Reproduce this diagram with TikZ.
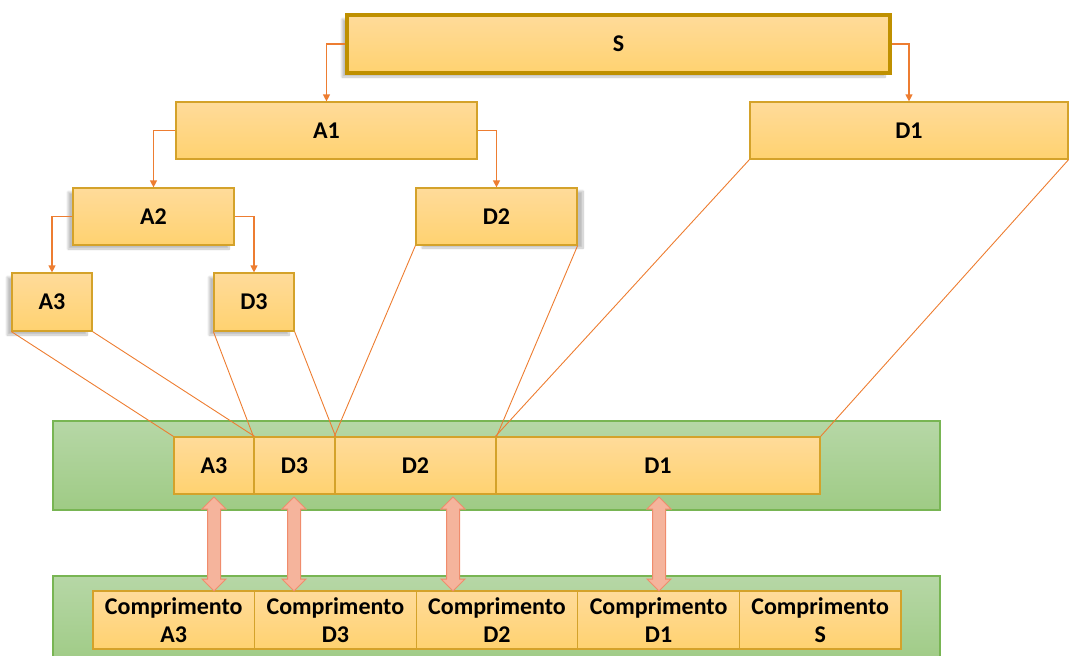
\documentclass[tikz,border=0pt]{standalone}
\usepackage{fontspec}
\setmainfont{Carlito}
\usetikzlibrary{arrows.meta,shapes.arrows,shadows.blur}
\definecolor{boxtop}{HTML}{FFDB9A}
\definecolor{boxbot}{HTML}{FFD270}
\definecolor{boxline}{HTML}{D4A22A}
\definecolor{sline}{HTML}{BF9000}
\definecolor{grtop}{HTML}{B6D7A6}
\definecolor{grbot}{HTML}{9FCB85}
\definecolor{grline}{HTML}{78B553}
\definecolor{conn}{HTML}{ED7D31}
\definecolor{arrfill}{HTML}{F5B49C}
\definecolor{arrline}{HTML}{F08C6C}
\begin{document}
\begin{tikzpicture}[x=1pt,y=-1pt,
  box/.style={draw=boxline, line width=1.2pt, top color=boxtop, bottom color=boxbot,
    inner sep=0pt, font=\fontsize{24}{28}\selectfont\bfseries, align=center},
  sbox/.style={box, draw=sline, line width=4pt},
  shd/.style={blur shadow={shadow xshift=-5pt, shadow yshift=-4pt, shadow blur steps=10, shadow opacity=25}},
  shdr/.style={blur shadow={shadow xshift=6pt, shadow yshift=-3pt, shadow blur steps=10, shadow opacity=25}},
  grn/.style={draw=grline, line width=1.5pt, top color=grtop, bottom color=grbot},
  tree/.style={draw=conn, line width=1.2pt, -{Triangle[width=7pt,length=7pt]}},
  link/.style={draw=conn, line width=0.9pt},
  dbl/.style={double arrow, rotate=90, fill=arrfill, draw=arrline, line width=1pt,
    inner sep=6pt, double arrow head extend=5.5pt,
    double arrow head indent=0pt, minimum height=94pt}
]
\useasboundingbox (0,0) rectangle (1069,656);

% green bands
\node[grn, minimum width=887pt, minimum height=89pt] (g1) at (496.5,465.5) {};
\node[grn, minimum width=887pt, minimum height=89pt] (g2) at (496.5,620.5) {};

% tree
\node[sbox, shd, minimum width=543pt, minimum height=58pt] (S) at (618.5,44) {S};
\node[box, minimum width=301pt, minimum height=57pt] (A1) at (326.5,130.5) {A1};
\node[box, minimum width=318pt, minimum height=57pt] (D1) at (909,130.5) {D1};
\node[box, shd, minimum width=161pt, minimum height=57pt] (A2) at (153.5,216.5) {A2};
\node[box, shdr, minimum width=161pt, minimum height=57pt] (D2) at (496.5,216.5) {D2};
\node[box, shd, minimum width=80pt, minimum height=58pt] (A3) at (52,302) {A3};
\node[box, shd, minimum width=80pt, minimum height=58pt] (D3) at (254,302) {D3};

\draw[tree] (S.west) -| (A1.north);
\draw[tree] (S.east) -| (D1.north);
\draw[tree] (A1.west) -| (A2.north);
\draw[tree] (A1.east) -| (D2.north);
\draw[tree] (A2.west) -| (A3.north);
\draw[tree] (A2.east) -| (D3.north);

% row
\node[box, minimum width=80pt, minimum height=57pt] (rA3) at (214,465.5) {A3};
\node[box, minimum width=81pt, minimum height=57pt] (rD3) at (294.5,465.5) {D3};
\node[box, minimum width=161pt, minimum height=57pt] (rD2) at (415.5,465.5) {D2};
\node[box, minimum width=324pt, minimum height=57pt] (rD1) at (658,465.5) {D1};

\draw[link] (A3.south west) -- (rA3.north west);
\draw[link] (A3.south east) -- (rA3.north east);
\draw[link] (D3.south west) -- (rD3.north west);
\draw[link] (D3.south east) -- (rD3.north east);
\draw[link] (D2.south west) -- (rD2.north west);
\draw[link] (D2.south east) -- (rD2.north east);
\draw[link] (D1.south west) -- (rD1.north west);
\draw[link] (D1.south east) -- (rD1.north east);

% bottom cells
\node[box, minimum width=161.6pt, minimum height=58pt] (c1) at (173.8,620) {Comprimento\\A3};
\node[box, minimum width=161.6pt, minimum height=58pt] (c2) at (335.4,620) {Comprimento\\D3};
\node[box, minimum width=161.6pt, minimum height=58pt] (c3) at (497,620) {Comprimento\\D2};
\node[box, minimum width=161.6pt, minimum height=58pt] (c4) at (658.6,620) {Comprimento\\D1};
\node[box, minimum width=161.6pt, minimum height=58pt] (c5) at (820.2,620) {Comprimento\\S};

% double arrows
\node[dbl] (d1) at (214,544) {};
\node[dbl] (d2) at (294,544) {};
\node[dbl] (d3) at (453,544) {};
\node[dbl] (d4) at (659,544) {};
\end{tikzpicture}
\end{document}
